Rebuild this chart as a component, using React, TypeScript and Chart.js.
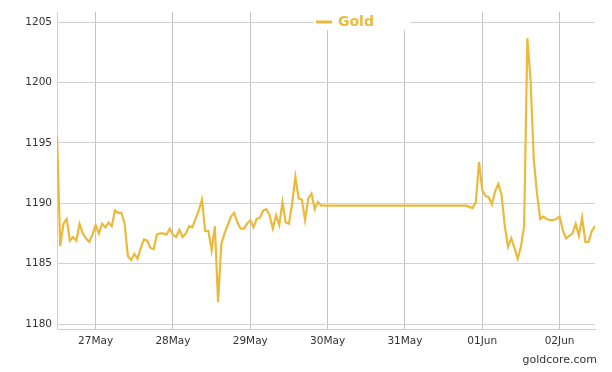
import React, { useEffect, useRef } from "react";
import { Chart, registerables } from "chart.js";

Chart.register(...registerables);

// hours counted from 26 May 00:00; first sample at 26 May 12:00, hourly
const startHour = 12;
const xTickHours = [24, 48, 72, 96, 120, 144, 168];
const xTickLabels = ["27May", "28May", "29May", "30May", "31May", "01Jun", "02Jun"];
const yTicks = [1180, 1185, 1190, 1195, 1200, 1205];
const seriesName = "Gold";
const sourceText = "goldcore.com";

const goldPrices = [
  1195.65, 1186.46, 1188.3, 1188.7, 1186.9, 1187.2, 1186.9, 1188.3, 1187.5, 1187.1,
  1186.8, 1187.4, 1188.2, 1187.5, 1188.3, 1188.0, 1188.4, 1188.1, 1189.4, 1189.2,
  1189.2, 1188.3, 1185.6, 1185.3, 1185.8, 1185.4, 1186.3, 1187.0, 1186.9, 1186.3,
  1186.2, 1187.4, 1187.5, 1187.5, 1187.4, 1187.9, 1187.4, 1187.2, 1187.8, 1187.2,
  1187.5, 1188.1, 1188.0, 1188.7, 1189.4, 1190.3, 1187.7, 1187.7, 1186.1, 1188.1,
  1181.8, 1186.6, 1187.5, 1188.2, 1188.9, 1189.2, 1188.4, 1187.9, 1187.9, 1188.3,
  1188.6, 1188.0, 1188.7, 1188.8, 1189.4, 1189.5, 1189.0, 1187.9, 1189.0, 1188.2,
  1190.1, 1188.4, 1188.3, 1190.0, 1192.2, 1190.4, 1190.3, 1188.6, 1190.4, 1190.8,
  1189.5, 1190.1, 1189.8, 1189.8, 1189.8, 1189.8, 1189.8, 1189.8, 1189.8, 1189.8,
  1189.8, 1189.8, 1189.8, 1189.8, 1189.8, 1189.8, 1189.8, 1189.8, 1189.8, 1189.8,
  1189.8, 1189.8, 1189.8, 1189.8, 1189.8, 1189.8, 1189.8, 1189.8, 1189.8, 1189.8,
  1189.8, 1189.8, 1189.8, 1189.8, 1189.8, 1189.8, 1189.8, 1189.8, 1189.8, 1189.8,
  1189.8, 1189.8, 1189.8, 1189.8, 1189.8, 1189.8, 1189.8, 1189.8, 1189.7, 1189.6,
  1190.1, 1193.4, 1191.1, 1190.6, 1190.5, 1189.9, 1191.0, 1191.6, 1190.7, 1188.1,
  1186.4, 1187.1, 1186.3, 1185.4, 1186.4, 1188.1, 1203.65, 1200.2, 1193.6, 1190.8,
  1188.7, 1188.9, 1188.7, 1188.6, 1188.6, 1188.7, 1188.9, 1187.8, 1187.1, 1187.3,
  1187.5, 1188.3, 1187.3, 1188.8, 1186.8, 1186.8, 1187.7, 1188.1,
];

const GOLD = "#E9BA3C";
const FONT = "'DejaVu Sans', Verdana, sans-serif";

const legendPlugin = {
  id: "goldLegend",
  afterDraw(chart: any) {
    const { ctx, chartArea } = chart;
    const cx = (chartArea.left + chartArea.right) / 2;
    const left = cx - 10;
    const top = chartArea.top;
    ctx.save();
    ctx.fillStyle = "#ffffff";
    ctx.fillRect(left - 2, top, 96, 18);
    ctx.strokeStyle = GOLD;
    ctx.lineWidth = 3;
    ctx.beginPath();
    ctx.moveTo(left, top + 10);
    ctx.lineTo(left + 16, top + 10);
    ctx.stroke();
    ctx.fillStyle = GOLD;
    ctx.font = `bold 14px ${FONT}`;
    ctx.textBaseline = "middle";
    ctx.textAlign = "left";
    ctx.fillText(seriesName, left + 22, top + 10);
    ctx.restore();
  },
};

export default function App() {
  const canvasRef = useRef<HTMLCanvasElement | null>(null);

  useEffect(() => {
    document.body.style.margin = "0";
    const canvas = canvasRef.current;
    if (!canvas) return;
    const chart = new Chart(canvas, {
      type: "line",
      data: {
        datasets: [
          {
            label: seriesName,
            data: goldPrices.map((v, i) => ({ x: startHour + i, y: v })),
            borderColor: GOLD,
            backgroundColor: GOLD,
            borderWidth: 2.2,
            pointRadius: 0,
            tension: 0,
            fill: false,
          },
        ],
      },
      options: {
        animation: false,
        responsive: true,
        maintainAspectRatio: false,
        layout: { padding: { top: 12, right: 17, left: 0, bottom: 0 } },
        plugins: {
          legend: { display: false },
          tooltip: { enabled: false },
        },
        scales: {
          x: {
            type: "linear",
            min: startHour,
            max: startHour + goldPrices.length - 1,
            afterBuildTicks: (axis: any) => {
              axis.ticks = xTickHours.map((v) => ({ value: v }));
            },
            afterFit: (axis: any) => {
              axis.height = 43;
            },
            ticks: {
              autoSkip: false,
              maxRotation: 0,
              padding: 6,
              color: "#333",
              font: { family: FONT, size: 10.5 },
              callback: (value: any) => {
                const idx = xTickHours.indexOf(Number(value));
                return idx >= 0 ? xTickLabels[idx] : "";
              },
            },
            grid: { color: "#c4c4c4", lineWidth: 1, drawTicks: false },
            border: { display: true, color: "#cfcfcf" },
          },
          y: {
            type: "linear",
            min: 1179.59,
            max: 1205.83,
            afterBuildTicks: (axis: any) => {
              axis.ticks = yTicks.map((v) => ({ value: v }));
            },
            afterFit: (axis: any) => {
              axis.width = 57;
            },
            ticks: {
              padding: 5,
              color: "#333",
              font: { family: FONT, size: 10.5 },
              callback: (value: any) => String(value),
            },
            grid: { color: "#d2d2d2", lineWidth: 1, drawTicks: false },
            border: { display: true, color: "#d2d2d2" },
          },
        },
      },
      plugins: [legendPlugin],
    });
    return () => chart.destroy();
  }, []);

  return (
    <div style={{ position: "relative", width: 612, height: 372, background: "#fff" }}>
      <canvas ref={canvasRef} />
      <div
        style={{
          position: "absolute",
          right: 15,
          top: 352,
          fontFamily: FONT,
          fontSize: 11,
          color: "#333",
          lineHeight: "16px",
        }}
      >
        {sourceText}
      </div>
    </div>
  );
}
